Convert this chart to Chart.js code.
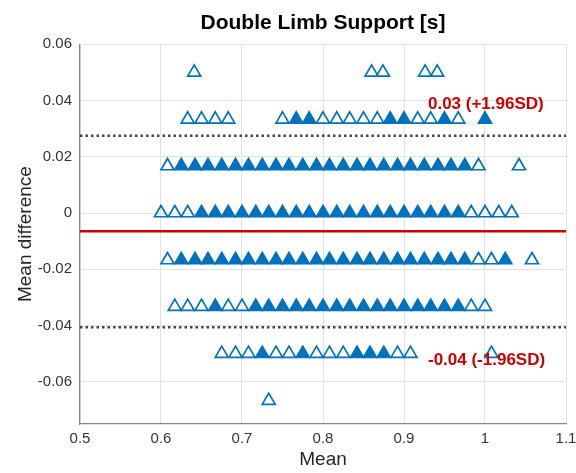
<!DOCTYPE html>
<html>
<head>
<meta charset="utf-8">
<script src="https://cdn.jsdelivr.net/npm/chart.js@4.4.1/dist/chart.umd.min.js"></script>
<style>
  html, body { margin: 0; padding: 0; background: #fff; }
  canvas { display: block; }
</style>
</head>
<body>
<canvas id="grafico" width="576" height="473"></canvas>
<script>
// difference levels (s) - data is quantised to camera frames
const diffLevels = [0.05, 0.0333, 0.0167, 0, -0.0167, -0.0333, -0.05, -0.0667];

// mean values (s) found on each difference level
const meansByLevel = [
    [0.641, 0.860, 0.874, 0.926, 0.941],
    [0.633, 0.650, 0.667, 0.683, 0.750, 0.767, 0.783, 0.800, 0.817, 0.833, 0.850, 0.867, 0.883, 0.900, 0.917, 0.933, 0.950, 0.967, 1.000],
    [0.608, 0.625, 0.642, 0.658, 0.675, 0.692, 0.708, 0.725, 0.742, 0.758, 0.775, 0.792, 0.808, 0.825, 0.842, 0.858, 0.875, 0.892, 0.908, 0.925, 0.942, 0.958, 0.975, 0.992, 1.042],
    [0.600, 0.617, 0.633, 0.650, 0.667, 0.683, 0.700, 0.717, 0.733, 0.750, 0.767, 0.783, 0.800, 0.817, 0.833, 0.850, 0.867, 0.883, 0.900, 0.917, 0.933, 0.950, 0.967, 0.983, 1.000, 1.017, 1.033],
    [0.608, 0.625, 0.642, 0.658, 0.675, 0.692, 0.708, 0.725, 0.742, 0.758, 0.775, 0.792, 0.808, 0.825, 0.842, 0.858, 0.875, 0.892, 0.908, 0.925, 0.942, 0.958, 0.975, 0.992, 1.008, 1.025, 1.058],
    [0.617, 0.633, 0.650, 0.667, 0.683, 0.700, 0.717, 0.733, 0.750, 0.767, 0.783, 0.800, 0.817, 0.833, 0.850, 0.867, 0.883, 0.900, 0.917, 0.933, 0.950, 0.967, 0.983, 1.000],
    [0.675, 0.692, 0.708, 0.725, 0.742, 0.758, 0.775, 0.792, 0.808, 0.825, 0.842, 0.858, 0.875, 0.892, 0.908, 1.008],
    [0.733]
];

// how many subjects/steps sit on each point (overlapping markers)
const countsByLevel = [
    [1, 1, 1, 1, 1],
    [1, 2, 1, 1, 1, 4, 3, 2, 1, 1, 1, 2, 3, 3, 2, 2, 3, 1, 3],
    [1, 3, 4, 5, 6, 6, 7, 8, 8, 9, 9, 10, 9, 9, 8, 8, 7, 6, 5, 5, 4, 3, 3, 1, 1],
    [2, 2, 1, 4, 6, 8, 10, 11, 12, 13, 14, 14, 15, 15, 14, 13, 12, 11, 10, 9, 8, 6, 4, 2, 1, 2, 1],
    [1, 3, 5, 6, 8, 9, 10, 11, 12, 12, 12, 12, 11, 11, 10, 9, 8, 7, 6, 5, 4, 3, 3, 2, 1, 3, 1],
    [2, 2, 2, 3, 2, 2, 4, 5, 6, 7, 8, 8, 8, 7, 7, 6, 6, 5, 4, 4, 3, 3, 1, 1],
    [1, 2, 1, 3, 1, 2, 3, 1, 1, 2, 3, 3, 3, 1, 2, 1],
    [1]
];

// bias and limits of agreement
const bias = -0.0065;
const upperLoA = 0.0275;
const lowerLoA = -0.0406;

const xTicks = [0.5, 0.6, 0.7, 0.8, 0.9, 1, 1.1];
const yTicks = [-0.06, -0.04, -0.02, 0, 0.02, 0.04, 0.06];

const azul = '#0072BD';
const vermelho = '#cc0000';

Chart.defaults.font.family = '"Liberation Sans", Arial, sans-serif';

const pontos = [];
diffLevels.forEach((d, i) => {
    meansByLevel[i].forEach((m, j) => {
        pontos.push({ x: m, y: d, n: countsByLevel[i][j] });
    });
});

const linha = (y) => [{ x: xTicks[0], y: y }, { x: xTicks[xTicks.length - 1], y: y }];

const fmt = v => String(+Number(v).toFixed(2));

// text labels for the limits of agreement
const rotulosLoA = {
    id: 'rotulosLoA',
    afterDatasetsDraw(chart) {
        const { ctx, scales: { x, y } } = chart;
        ctx.save();
        ctx.font = 'bold 17px "Liberation Sans", Arial, sans-serif';
        ctx.fillStyle = vermelho;
        ctx.textAlign = 'left';
        ctx.textBaseline = 'middle';
        const px = x.getPixelForValue(0.9296);
        ctx.fillText(fmt(upperLoA) + ' (+1.96SD)', px, y.getPixelForValue(upperLoA) - 31);
        ctx.fillText(fmt(lowerLoA) + ' (-1.96SD)', px, y.getPixelForValue(lowerLoA) + 33);
        ctx.restore();
    }
};

new Chart(document.getElementById('grafico').getContext('2d'), {
    type: 'scatter',
    data: {
        datasets: [
            {
                label: 'Mean',
                data: linha(bias),
                showLine: true,
                borderColor: vermelho,
                borderWidth: 2.5,
                pointRadius: 0
            },
            {
                label: '+1.96SD',
                data: linha(upperLoA),
                showLine: true,
                borderColor: '#444',
                borderWidth: 2.5,
                borderDash: [2.5, 3],
                pointRadius: 0
            },
            {
                label: '-1.96SD',
                data: linha(lowerLoA),
                showLine: true,
                borderColor: '#444',
                borderWidth: 2.5,
                borderDash: [2.5, 3],
                pointRadius: 0
            },
            {
                label: 'Differences',
                data: pontos,
                pointStyle: 'triangle',
                pointRadius: 7.5,
                pointBorderWidth: 1.7,
                pointBorderColor: azul,
                pointBackgroundColor: c => (c.raw && c.raw.n >= 3) ? azul : 'rgba(255,255,255,0)'
            }
        ]
    },
    options: {
        responsive: false,
        animation: false,
        layout: { padding: { top: 1, right: 0, bottom: 0, left: 0 } },
        plugins: {
            legend: { display: false },
            tooltip: { enabled: false },
            title: {
                display: true,
                text: 'Double Limb Support [s]',
                fullSize: false,
                color: '#000',
                font: { size: 21, weight: 'bold' },
                padding: { top: 10, bottom: 8 }
            }
        },
        scales: {
            x: {
                type: 'linear',
                min: 0.5,
                max: 1.1,
                afterBuildTicks: s => { s.ticks = xTicks.map(v => ({ value: v })); },
                afterFit: s => { s.height = 49; s.paddingLeft = 0; s.paddingRight = 10; },
                ticks: { callback: v => fmt(v), color: '#333', font: { size: 15 }, padding: 6, maxRotation: 0, autoSkip: false },
                grid: { color: '#e2e2e2', drawTicks: false },
                border: { color: '#888', width: 1.2 },
                title: { display: true, text: 'Mean', color: '#262626', font: { size: 19 }, padding: { top: 0, bottom: 2 } }
            },
            y: {
                type: 'linear',
                min: -0.075,
                max: 0.06,
                afterBuildTicks: s => { s.ticks = yTicks.map(v => ({ value: v })); },
                afterFit: s => { s.width = 80; },
                ticks: { callback: v => fmt(v), color: '#333', font: { size: 15 }, padding: 8, autoSkip: false },
                grid: { color: '#e2e2e2', drawTicks: false },
                border: { color: '#888', width: 1.2 },
                title: { display: true, text: 'Mean difference', color: '#262626', font: { size: 19 }, padding: { top: 14, bottom: 0 } }
            }
        }
    },
    plugins: [rotulosLoA]
});
</script>
</body>
</html>
